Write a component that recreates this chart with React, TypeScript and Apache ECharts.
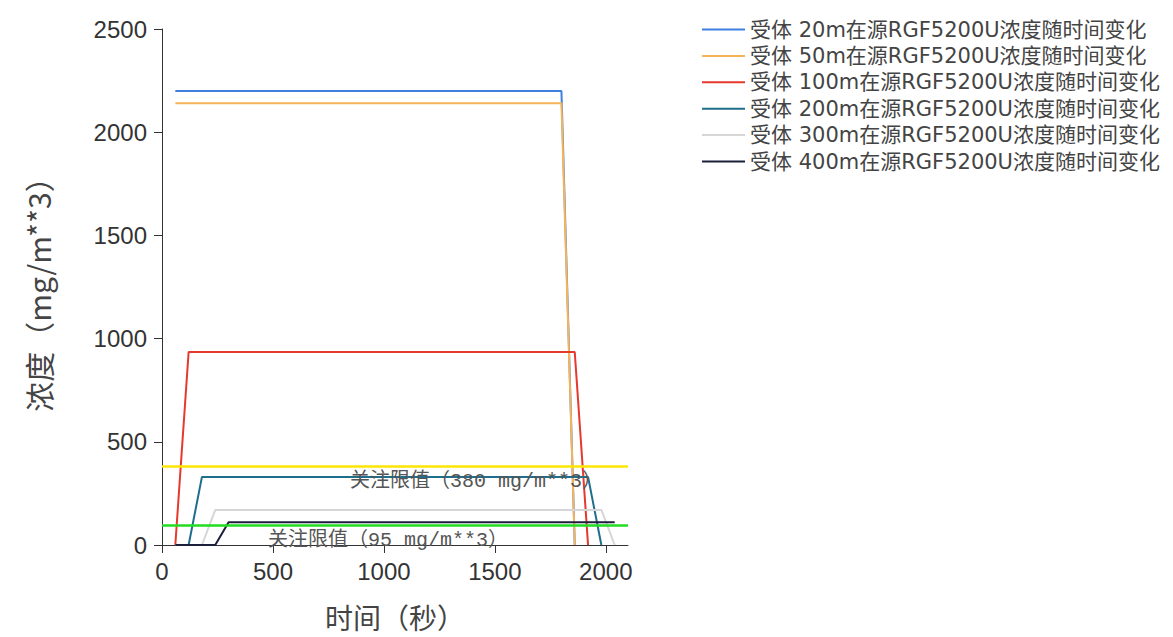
import React, { useEffect, useRef } from "react";
import * as echarts from "echarts";

const seriesNames = [
  "受体 20m在源RGF5200U浓度随时间变化",
  "受体 50m在源RGF5200U浓度随时间变化",
  "受体 100m在源RGF5200U浓度随时间变化",
  "受体 200m在源RGF5200U浓度随时间变化",
  "受体 300m在源RGF5200U浓度随时间变化",
  "受体 400m在源RGF5200U浓度随时间变化",
];
const seriesColors = ["#3f7fe0", "#f6b459", "#e5392d", "#1f6e8c", "#d6d6d6", "#1b1f3b"];

const times20 = [60, 1800, 1860];
const vals20 = [2200, 2200, 0];
const times50 = [60, 1800, 1860];
const vals50 = [2140, 2140, 0];
const times100 = [60, 120, 1860, 1920];
const vals100 = [0, 935, 935, 0];
const times200 = [60, 120, 180, 1920, 1980];
const vals200 = [0, 0, 330, 330, 0];
const times300 = [60, 180, 240, 1980, 2040];
const vals300 = [0, 0, 170, 170, 0];
const times400 = [60, 240, 300, 2040];
const vals400 = [0, 0, 110, 110];

const allTimes = [times20, times50, times100, times200, times300, times400];
const allVals = [vals20, vals50, vals100, vals200, vals300, vals400];

const limitHigh = 380;
const limitLow = 95;
const limitHighLabel = "关注限值（380 mg/m**3）";
const limitLowLabel = "关注限值（95 mg/m**3）";

const xTicks = [0, 500, 1000, 1500, 2000];
const xName = "时间（秒）";
const yName = "浓度（mg/m**3）";

export default function App() {
  const ref = useRef<HTMLDivElement>(null);
  useEffect(() => {
    if (!ref.current) return;
    const chart = echarts.init(ref.current, null, { renderer: "svg" });
    const monoFont = "'Liberation Mono', 'Noto Sans CJK SC', monospace";
    const series: any[] = seriesNames.map((name, i) => ({
      name,
      type: "line",
      symbol: "none",
      data: allTimes[i].map((t, j) => [t, allVals[i][j]]),
      lineStyle: { color: seriesColors[i], width: 2 },
      itemStyle: { color: seriesColors[i] },
      z: 3,
    }));
    series[5].markLine = {
      silent: true,
      symbol: "none",
      animation: false,
      data: [
        {
          yAxis: limitHigh,
          lineStyle: { color: "#ffe600", width: 2.5, type: "solid" },
          label: {
            show: true,
            formatter: limitHighLabel,
            position: "insideMiddleBottom",
            offset: [81, 0],
            color: "#555",
            fontSize: 20,
            fontFamily: monoFont,
            distance: 5,
          },
        },
        {
          yAxis: limitLow,
          lineStyle: { color: "#22dd22", width: 2.5, type: "solid" },
          label: {
            show: true,
            formatter: limitLowLabel,
            position: "insideMiddleBottom",
            offset: [-7, 0],
            color: "#555",
            fontSize: 20,
            fontFamily: monoFont,
            distance: 5,
          },
        },
      ],
    };
    const plain = (v: number) => String(v);
    chart.setOption({
      animation: false,
      backgroundColor: "#ffffff",
      grid: { left: 162, top: 29, width: 466, height: 516, containLabel: false },
      legend: {
        data: seriesNames,
        orient: "vertical",
        left: 697,
        top: 14,
        icon: "rect",
        itemWidth: 43,
        itemHeight: 2,
        itemGap: 5.4,
        textStyle: {
          color: "#444",
          fontSize: 21,
          lineHeight: 21,
          fontFamily: "'DejaVu Sans', 'Noto Sans CJK SC', sans-serif",
        },
      },
      xAxis: {
        type: "value",
        min: 0,
        max: 2100,
        interval: 500,
        name: xName,
        nameLocation: "middle",
        nameGap: 58,
        nameTextStyle: { fontSize: 28, color: "#444", fontFamily: "'Noto Sans CJK SC', sans-serif" },
        axisLine: { show: true, lineStyle: { color: "#333", width: 1 } },
        axisTick: { show: true, length: 8, customValues: xTicks, lineStyle: { color: "#333" } },
        axisLabel: {
          customValues: xTicks,
          formatter: plain,
          margin: 14,
          fontSize: 24,
          color: "#333",
          fontFamily: "'Liberation Sans', Arial, sans-serif",
        },
        splitLine: { show: false },
      },
      yAxis: {
        type: "value",
        min: 0,
        max: 2500,
        interval: 500,
        name: yName,
        nameLocation: "middle",
        nameGap: 109,
        nameTextStyle: { fontSize: 30, color: "#444", fontFamily: "'Noto Sans CJK SC', sans-serif" },
        axisLine: { show: true, lineStyle: { color: "#333", width: 1 } },
        axisTick: { show: true, length: 8, lineStyle: { color: "#333" } },
        axisLabel: {
          formatter: plain,
          margin: 15,
          fontSize: 24,
          color: "#333",
          fontFamily: "'Liberation Sans', Arial, sans-serif",
        },
        splitLine: { show: false },
      },
      series,
    });
    return () => chart.dispose();
  }, []);
  return (
    <div
      ref={ref}
      style={{ position: "fixed", left: 0, top: 0, width: 1173, height: 637, background: "#fff" }}
    />
  );
}
